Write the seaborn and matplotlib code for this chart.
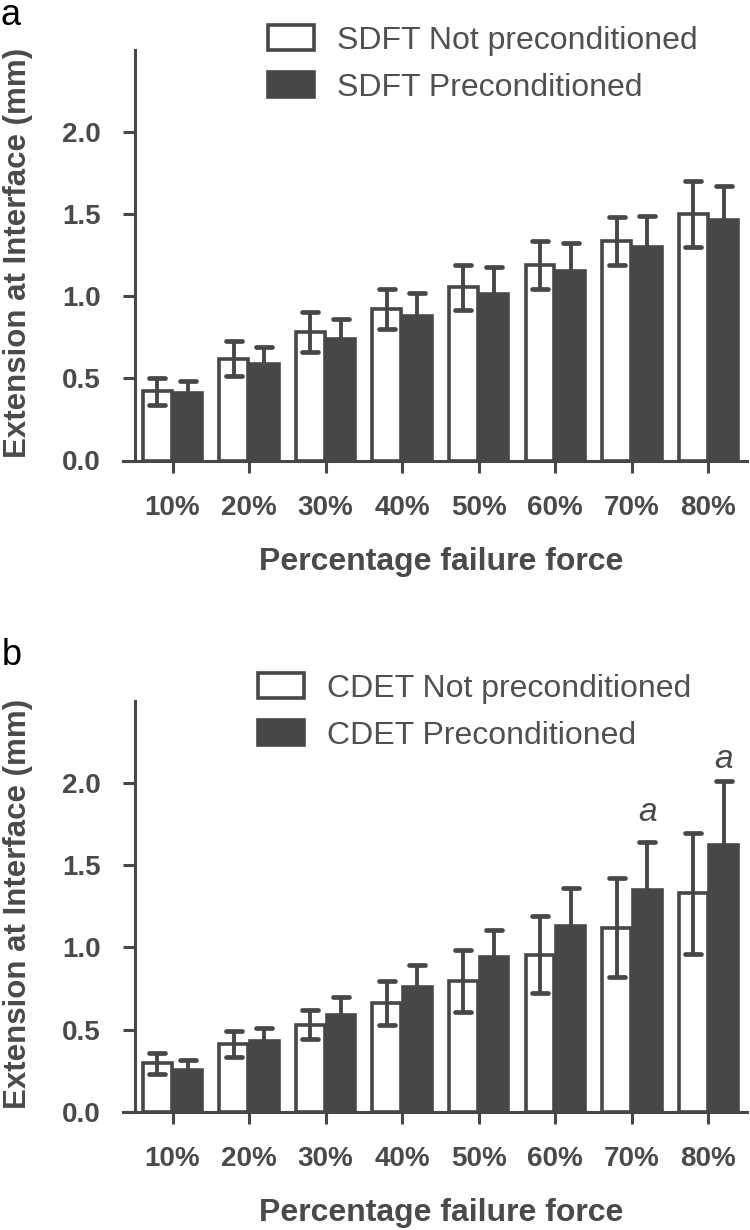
import matplotlib
matplotlib.use("Agg")
import matplotlib.pyplot as plt
import seaborn as sns
import pandas as pd
import numpy as np
from matplotlib.patches import Patch
from matplotlib.markers import MarkerStyle

# ---------------- data ----------------
categories = ["10%", "20%", "30%", "40%", "50%", "60%", "70%", "80%"]

sdft_not = [0.42, 0.62, 0.78, 0.92, 1.055, 1.19, 1.335, 1.50]
sdft_not_sd = [0.084, 0.104, 0.121, 0.123, 0.137, 0.146, 0.148, 0.20]
sdft_pre = [0.41, 0.59, 0.74, 0.88, 1.01, 1.15, 1.30, 1.46]
sdft_pre_sd = [0.075, 0.10, 0.12, 0.14, 0.165, 0.17, 0.19, 0.21]

cdet_not = [0.295, 0.41, 0.53, 0.66, 0.795, 0.955, 1.12, 1.33]
cdet_not_sd = [0.064, 0.078, 0.09, 0.134, 0.187, 0.235, 0.30, 0.368]
cdet_pre = [0.255, 0.43, 0.59, 0.757, 0.94, 1.13, 1.35, 1.625]
cdet_pre_sd = [0.06, 0.08, 0.11, 0.133, 0.165, 0.23, 0.29, 0.385]

ylim_top = 2.5
yticks = [0.0, 0.5, 1.0, 1.5, 2.0]
sig_marks = {"70%": 1.77, "80%": 2.09}  # 'a' annotations (panel b, preconditioned)

# ---------------- style ----------------
DARK = "#474747"
TXT = "#4a4a4a"
LEGTXT = "#505050"
sns.set_theme(style="white")
plt.rcParams["font.family"] = ["Liberation Sans", "DejaVu Sans"]

fig = plt.figure(figsize=(7.5, 12.3), dpi=100)
W, H = 750.0, 1230.0


def make_panel(rect, tissue, not_vals, not_sd, pre_vals, pre_sd, leg_xy, letter, letter_xy,
               ylab_y, marks=None):
    ax = fig.add_axes(rect)
    lab_not = f"{tissue} Not preconditioned"
    lab_pre = f"{tissue} Preconditioned"
    df = pd.DataFrame({
        "cat": categories * 2,
        "val": list(not_vals) + list(pre_vals),
        "grp": [lab_not] * len(categories) + [lab_pre] * len(categories),
    })
    sns.barplot(data=df, x="cat", y="val", hue="grp", order=categories,
                hue_order=[lab_not, lab_pre],
                palette={lab_not: "white", lab_pre: DARK},
                edgecolor=DARK, linewidth=2.6, width=0.8, gap=0.06,
                errorbar=None, legend=False, ax=ax, zorder=2)
    for cont, vals, sds in zip(ax.containers, [not_vals, pre_vals], [not_sd, pre_sd]):
        xs = [p.get_x() + p.get_width() / 2 for p in cont.patches]
        eb = ax.errorbar(xs, vals, yerr=sds, fmt="none", ecolor=DARK,
                         elinewidth=2.8, capsize=11, capthick=3.4, zorder=3)
        for cl in eb[1]:
            cl.set_marker(MarkerStyle("_", capstyle="round"))
            cl.set_markersize(12)
    if marks:
        cont = ax.containers[1]
        for c, yv in marks.items():
            p = cont.patches[categories.index(c)]
            ax.text(p.get_x() + p.get_width() / 2, yv, "a", ha="center", va="baseline",
                    fontsize=24, style="italic", color=TXT)

    ax.set_xlim(-0.49, 7.5)
    ax.set_ylim(0, ylim_top)
    ax.set_yticks(yticks)
    ax.set_yticklabels([f"{t:.1f}" for t in yticks])
    for s in ["top", "right"]:
        ax.spines[s].set_visible(False)
    for s in ["left", "bottom"]:
        ax.spines[s].set_color(DARK)
        ax.spines[s].set_linewidth(2.2)
    px_per_unit = rect[2] * W / (7.5 + 0.49)
    ax.spines["bottom"].set_bounds(-0.49 - 12 / px_per_unit, 7.5)
    ax.tick_params(axis="both", which="both", direction="out", length=8.6, width=2.2,
                   color=DARK, labelcolor=TXT, labelsize=20, pad=16,
                   left=True, bottom=True)
    for t in ax.get_xticklabels() + ax.get_yticklabels():
        t.set_fontweight("bold")
    ax.set_xlabel("Percentage failure force", fontsize=23, fontweight="bold",
                  color=TXT, labelpad=19)
    ax.set_ylabel("Extension at Interface (mm)", fontsize=22.5, fontweight="bold",
                  color=TXT)
    ax.yaxis.set_label_coords(-(135 - 33) / (rect[2] * W), ylab_y)
    ax.grid(False)

    handles = [Patch(facecolor="white", edgecolor=DARK, linewidth=2.6, label=lab_not),
               Patch(facecolor=DARK, edgecolor=DARK, linewidth=2.6, label=lab_pre)]
    fig.legend(handles=handles, loc="upper left",
               bbox_to_anchor=(leg_xy[0] / W, 1 - leg_xy[1] / H),
               frameon=False, fontsize=23, borderpad=0, borderaxespad=0,
               handlelength=1.45, handleheight=0.82, handletextpad=0.72,
               labelspacing=0.52, labelcolor=LEGTXT)
    fig.text(letter_xy[0] / W, 1 - letter_xy[1] / H, letter, fontsize=26,
             color="black", ha="left", va="top")
    return ax


rect_a = [135 / W, (H - 460.5) / H, 611.7 / W, 411 / H]
rect_b = [135 / W, (H - 1111.7) / H, 611.7 / W, 411 / H]

make_panel(rect_a, "SDFT", sdft_not, sdft_not_sd, sdft_pre, sdft_pre_sd,
           (268, 25), "a", (0, -2), 0.505)
make_panel(rect_b, "CDET", cdet_not, cdet_not_sd, cdet_pre, cdet_pre_sd,
           (258, 673), "b", (2, 638), 0.505, marks=sig_marks)

fig.savefig("out.png", dpi=100)
